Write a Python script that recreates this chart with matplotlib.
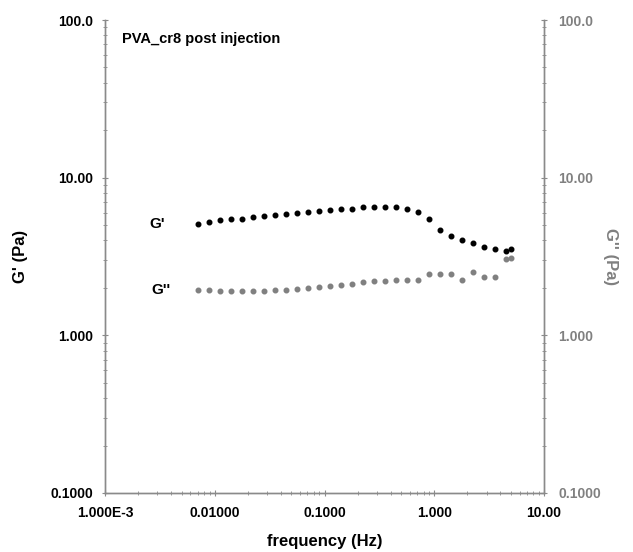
import matplotlib
matplotlib.use("Agg")
import matplotlib.pyplot as plt
from matplotlib.ticker import FixedLocator, NullFormatter, LogLocator

plt.rcParams['font.family'] = ['Liberation Sans', 'DejaVu Sans']

freq = [0.00708, 0.00891, 0.0112, 0.0141, 0.0178, 0.0224, 0.0282, 0.0355, 0.0447, 0.0562,
        0.0708, 0.0891, 0.112, 0.141, 0.178, 0.224, 0.282, 0.355, 0.447, 0.562,
        0.708, 0.891, 1.12, 1.41, 1.78, 2.24, 2.82, 3.55, 4.47, 5.0]
g_prime = [5.11, 5.24, 5.37, 5.45, 5.50, 5.63, 5.69, 5.83, 5.86, 5.95,
           6.03, 6.12, 6.24, 6.31, 6.36, 6.50, 6.50, 6.50, 6.50, 6.31,
           6.06, 5.50, 4.64, 4.25, 4.02, 3.87, 3.64, 3.55, 3.44, 3.52]
g_double = [1.95, 1.93, 1.90, 1.90, 1.90, 1.90, 1.92, 1.93, 1.95, 1.97,
            2.00, 2.02, 2.05, 2.08, 2.12, 2.17, 2.20, 2.22, 2.25, 2.25,
            2.25, 2.44, 2.44, 2.44, 2.24, 2.51, 2.33, 2.36, 3.05, 3.11]

x_ticks = [1e-3, 1e-2, 1e-1, 1, 10]
x_labels = ['1.000E-3', '0.01000', '0.1000', '1.000', '10.00']
y_ticks = [0.1, 1, 10, 100]
y_labels = ['0.1000', '1.000', '10.00', '100.0']

spine_col = '#8a8a8a'
gray = '#808080'

fig = plt.figure(figsize=(6.33, 5.52), dpi=100)
ax = fig.add_axes([105/633, 1-493/552, (544-105)/633, (493-20)/552])
ax2 = ax.twinx()

for a in (ax, ax2):
    a.set_xscale('log')
    a.set_yscale('log')
    a.set_xlim(1e-3, 10)
    a.set_ylim(0.1, 100)
    a.spines['top'].set_visible(False)
    for s in ('left', 'right', 'bottom'):
        a.spines[s].set_color(spine_col)
        a.spines[s].set_linewidth(1.0)
    a.yaxis.set_major_locator(FixedLocator(y_ticks))
    a.yaxis.set_minor_locator(LogLocator(base=10, subs=range(2, 10)))
    a.yaxis.set_minor_formatter(NullFormatter())
    a.tick_params(which='major', direction='inout', length=5, color=spine_col, width=0.8)
    a.tick_params(which='minor', direction='inout', length=3, color=spine_col, width=0.6)

ax.xaxis.set_major_locator(FixedLocator(x_ticks))
ax.set_xticklabels(x_labels, fontsize=10, fontweight='bold')
ax.xaxis.set_minor_locator(LogLocator(base=10, subs=range(2, 10)))
ax.xaxis.set_minor_formatter(NullFormatter())
ax.tick_params(axis='x', pad=7)
ax.set_yticklabels(y_labels, fontsize=10, fontweight='bold', color='black')
ax.tick_params(axis='y', pad=6)
ax2.set_yticklabels(y_labels, fontsize=10, fontweight='bold', color=gray)
ax2.tick_params(axis='y', pad=8)

ax.plot(freq, g_prime, linestyle='none', marker='o', markersize=3.3, color='black')
ax2.plot(freq, g_double, linestyle='none', marker='o', markersize=3.3, color=gray)

ax.set_xlabel('frequency (Hz)', fontsize=12, fontweight='bold', labelpad=10)
ax.set_ylabel("G' (Pa)", fontsize=12, fontweight='bold', labelpad=16)
ax2.set_ylabel("G'' (Pa)", fontsize=12, fontweight='bold', color=gray, rotation=270, labelpad=12)

ax.text(0.00142, 76, 'PVA_cr8 post injection', fontsize=10.5, fontweight='bold', va='center', ha='left')
ax.text(0.0030, 5.1, "G'", fontsize=11, fontweight='bold', va='center', ha='center')
ax.text(0.0032, 1.95, "G''", fontsize=11, fontweight='bold', va='center', ha='center')

fig.savefig('out.png', dpi=100)
